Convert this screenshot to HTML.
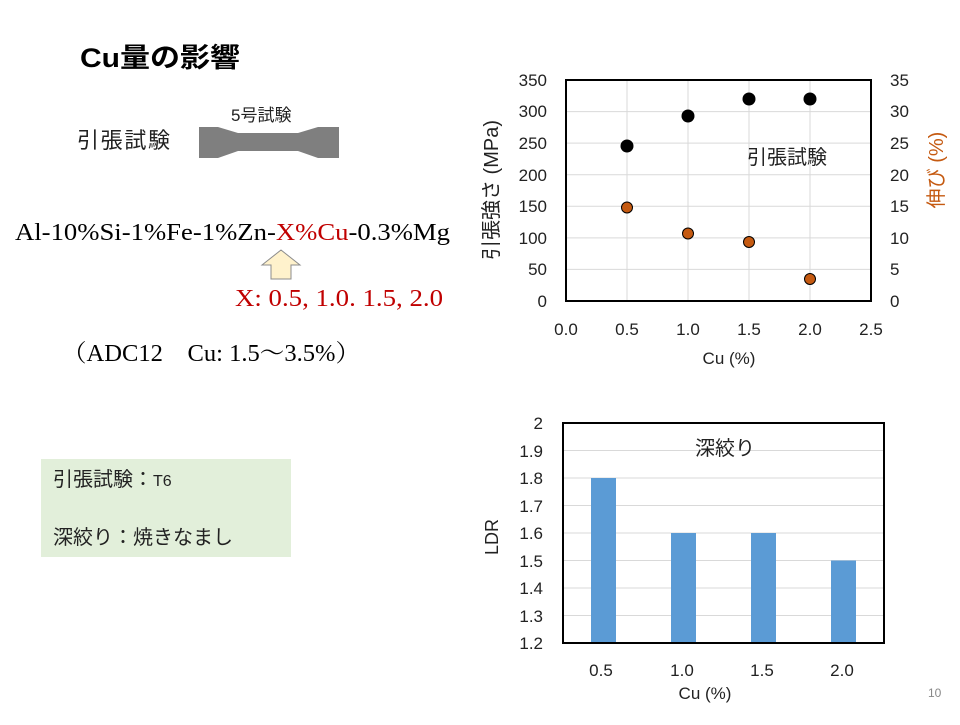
<!DOCTYPE html>
<html><head><meta charset="utf-8"><style>
body{margin:0;width:960px;height:720px;background:#fff;overflow:hidden}
svg text{font-family:"Liberation Sans","Noto Sans CJK JP",sans-serif}
.t{font-family:"Liberation Serif","Noto Serif CJK SC",serif !important}
</style></head><body>
<svg width="960" height="720" viewBox="0 0 960 720" xmlns="http://www.w3.org/2000/svg">
<text x="80" y="67" font-size="27" font-weight="bold" textLength="160" lengthAdjust="spacingAndGlyphs">Cu量の影響</text>
<text x="231" y="121" font-size="17" fill="#222">5号試験</text>
<text x="77" y="148" font-size="22" fill="#222" textLength="93">引張試験</text>
<polygon points="199,127 218,127 238,133 298,133 318,127 339,127 339,158 318,158 298,151 238,151 218,158 199,158" fill="#7f7f7f"/>
<text class="t" x="15" y="240" font-size="24" textLength="435" lengthAdjust="spacingAndGlyphs">Al-10%Si-1%Fe-1%Zn-<tspan fill="#c00000">X%Cu</tspan>-0.3%Mg</text>
<polygon points="281,250 300,265 291,265 291,279 271,279 271,265 262,265" fill="#fff2cc" stroke="#8c8c8c" stroke-width="1"/>
<text class="t" x="235" y="306" font-size="24" fill="#c00000" textLength="208" lengthAdjust="spacingAndGlyphs">X: 0.5, 1.0. 1.5, 2.0</text>
<text class="t" x="62" y="361" font-size="24" textLength="298" lengthAdjust="spacingAndGlyphs">（ADC12　Cu: 1.5～3.5%）</text>
<rect x="41" y="459" width="250" height="98" fill="#e2efda"/>
<text x="53" y="486" font-size="20" fill="#222">引張試験：<tspan font-size="16">T6</tspan></text>
<text x="53" y="544" font-size="20" fill="#222">深絞り：焼きなまし</text>
<text x="928" y="697" font-size="12" fill="#888">10</text>

<!-- chart 1 -->
<g stroke="#d9d9d9" stroke-width="1">
<line x1="566" y1="269.4" x2="871" y2="269.4"/><line x1="566" y1="237.9" x2="871" y2="237.9"/>
<line x1="566" y1="206.3" x2="871" y2="206.3"/><line x1="566" y1="174.7" x2="871" y2="174.7"/>
<line x1="566" y1="143.1" x2="871" y2="143.1"/><line x1="566" y1="111.6" x2="871" y2="111.6"/>
<line x1="627" y1="80" x2="627" y2="301"/><line x1="688" y1="80" x2="688" y2="301"/>
<line x1="749" y1="80" x2="749" y2="301"/><line x1="810" y1="80" x2="810" y2="301"/>
</g>
<rect x="566" y="80" width="305" height="221" fill="none" stroke="#000" stroke-width="2"/>
<g font-size="17" text-anchor="end" fill="#222">
<text x="547" y="307">0</text><text x="547" y="275">50</text><text x="547" y="244">100</text>
<text x="547" y="212">150</text><text x="547" y="181">200</text><text x="547" y="149">250</text>
<text x="547" y="117">300</text><text x="547" y="86">350</text></g>
<g font-size="17" fill="#222">
<text x="890" y="307">0</text><text x="890" y="275">5</text><text x="890" y="244">10</text>
<text x="890" y="212">15</text><text x="890" y="181">20</text><text x="890" y="149">25</text>
<text x="890" y="117">30</text><text x="890" y="86">35</text></g>
<g font-size="17" text-anchor="middle" fill="#222">
<text x="566" y="335">0.0</text><text x="627" y="335">0.5</text><text x="688" y="335">1.0</text>
<text x="749" y="335">1.5</text><text x="810" y="335">2.0</text><text x="871" y="335">2.5</text>
<text x="729" y="364">Cu (%)</text></g>
<text transform="translate(498,190) rotate(-90)" font-size="20" text-anchor="middle" fill="#222">引張強さ (MPa)</text>
<text transform="translate(943,170) rotate(-90)" font-size="20" text-anchor="middle" fill="#c55a11">伸び (%)</text>
<text x="747" y="164" font-size="20" fill="#222">引張試験</text>
<g fill="#000"><circle cx="627" cy="146" r="6.5"/><circle cx="688" cy="116" r="6.5"/><circle cx="749" cy="99" r="6.5"/><circle cx="810" cy="99" r="6.5"/></g>
<g fill="#c55a11" stroke="#000" stroke-width="1"><circle cx="627" cy="207.5" r="5.5"/><circle cx="688" cy="233.5" r="5.5"/><circle cx="749" cy="242" r="5.5"/><circle cx="810" cy="279" r="5.5"/></g>

<!-- chart 2 -->
<g stroke="#d9d9d9" stroke-width="1">
<line x1="563" y1="615.5" x2="884" y2="615.5"/><line x1="563" y1="588" x2="884" y2="588"/>
<line x1="563" y1="560.5" x2="884" y2="560.5"/><line x1="563" y1="533" x2="884" y2="533"/>
<line x1="563" y1="505.5" x2="884" y2="505.5"/><line x1="563" y1="478" x2="884" y2="478"/>
<line x1="563" y1="450.5" x2="884" y2="450.5"/></g>
<g fill="#5b9bd5">
<rect x="591" y="478" width="25" height="165"/><rect x="671" y="533" width="25" height="110"/>
<rect x="751" y="533" width="25" height="110"/><rect x="831" y="560.5" width="25" height="82.5"/></g>
<rect x="563" y="423" width="321" height="220" fill="none" stroke="#000" stroke-width="2"/>
<g font-size="17" text-anchor="end" fill="#222">
<text x="543" y="649">1.2</text><text x="543" y="622">1.3</text><text x="543" y="594">1.4</text>
<text x="543" y="567">1.5</text><text x="543" y="539">1.6</text><text x="543" y="512">1.7</text>
<text x="543" y="484">1.8</text><text x="543" y="457">1.9</text><text x="543" y="429">2</text></g>
<g font-size="17" text-anchor="middle" fill="#222">
<text x="601" y="676">0.5</text><text x="682" y="676">1.0</text><text x="762" y="676">1.5</text><text x="842" y="676">2.0</text>
<text x="705" y="699">Cu (%)</text></g>
<text transform="translate(498,537) rotate(-90)" font-size="18" text-anchor="middle" fill="#222">LDR</text>
<text x="695" y="455" font-size="20" fill="#222">深絞り</text>
</svg>
</body></html>
